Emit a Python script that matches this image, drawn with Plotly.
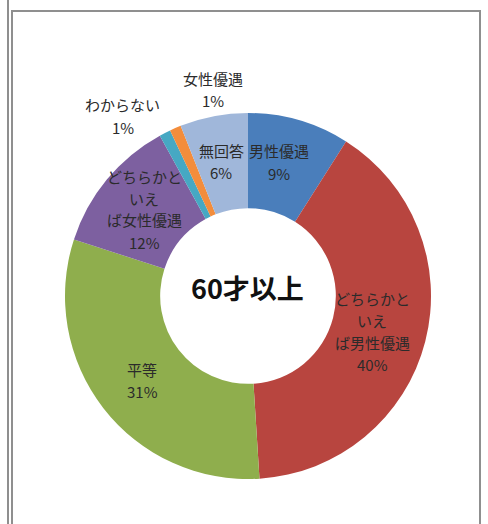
import plotly.graph_objects as go

# Survey answers for the 60+ age group (percent)
categories = ["男性優遇", "どちらかといえば男性優遇", "平等", "どちらかといえば女性優遇",
              "わからない", "女性優遇", "無回答"]
values = [9, 40, 31, 12, 1, 1, 6]
colors = ["#4A7EBB", "#B8453F", "#8FAE4D", "#7D60A0", "#46A8C3", "#F38D3C", "#A0B7DA"]

# Wrapped display names for the data labels
label_lines = {
    "どちらかといえば男性優遇": ["どちらかと", "いえ", "ば男性優遇"],
    "どちらかといえば女性優遇": ["どちらかと", "いえ", "ば女性優遇"],
}
# Label centres in pixels (x from left, y from top)
label_pos = {
    "男性優遇": (279, 162),
    "どちらかといえば男性優遇": (372, 331),
    "平等": (142, 380),
    "どちらかといえば女性優遇": (144, 209),
    "わからない": (123, 116),
    "女性優遇": (213, 90),
    "無回答": (221, 161),
}
LINE_GAP = 22

W, H = 488, 524
CX, CY, R = 248, 296, 183
FONT = "Noto Sans CJK JP"


def px(x):
    return x / W


def py(y):
    return 1 - y / H


fig = go.Figure(go.Pie(
    labels=categories,
    values=values,
    marker=dict(colors=colors, line=dict(color="white", width=0)),
    hole=0.48,
    sort=False,
    direction="clockwise",
    rotation=0,
    textinfo="none",
    hoverinfo="label+percent",
    showlegend=False,
    domain=dict(x=[px(CX - R), px(CX + R)], y=[py(CY + R), py(CY - R)]),
))

annotations = []
for name, v in zip(categories, values):
    lines = label_lines.get(name, [name]) + [f"{v}%"]
    x, y = label_pos[name]
    top = y - LINE_GAP * (len(lines) - 1) / 2
    for i, line in enumerate(lines):
        annotations.append(dict(
            x=px(x), y=py(top + i * LINE_GAP), xref="paper", yref="paper",
            text=line, showarrow=False,
            xanchor="center", yanchor="middle", align="center",
            font=dict(family=FONT, size=15, color="#2b2b2b"),
        ))

annotations.append(dict(
    x=px(247), y=py(287), xref="paper", yref="paper",
    text="<b>60才以上</b>", showarrow=False,
    xanchor="center", yanchor="middle",
    font=dict(family=FONT, size=27, color="#111111"),
))

frame = "#8f8f8f"
shapes = [
    dict(type="line", xref="paper", yref="paper", x0=px(8), x1=px(8), y0=0, y1=1,
         line=dict(color=frame, width=2)),
    dict(type="line", xref="paper", yref="paper", x0=px(12), x1=px(12), y0=0, y1=py(10),
         line=dict(color=frame, width=2)),
    dict(type="line", xref="paper", yref="paper", x0=px(12), x1=px(480), y0=py(11), y1=py(11),
         line=dict(color=frame, width=2)),
    dict(type="line", xref="paper", yref="paper", x0=px(480), x1=px(480), y0=0, y1=py(10),
         line=dict(color=frame, width=2)),
]

fig.update_layout(
    width=W, height=H,
    margin=dict(l=0, r=0, t=0, b=0),
    paper_bgcolor="white",
    plot_bgcolor="white",
    annotations=annotations,
    shapes=shapes,
)

fig.write_html("out.html")
